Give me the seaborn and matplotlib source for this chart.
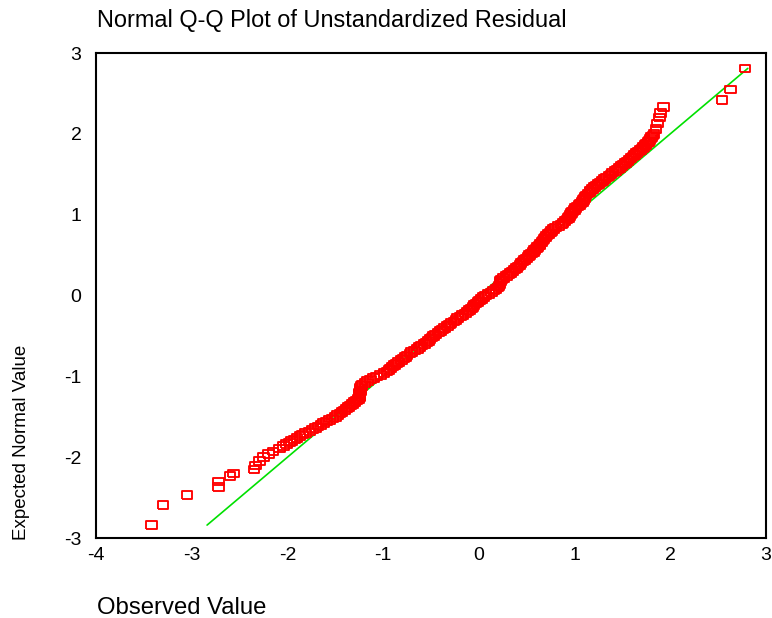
import matplotlib
matplotlib.use("Agg")
import matplotlib.pyplot as plt
import seaborn as sns

# === Data (sorted by rank) ===
# lower tail (single boxes)
obs_low = [-3.42, -3.30, -3.05, -2.72, -2.72, -2.60, -2.56, -2.35, -2.33, -2.29,
           -2.25, -2.20, -2.15, -2.08]
exp_low = [-2.84, -2.59, -2.47, -2.37, -2.30, -2.23, -2.20, -2.15, -2.10, -2.05,
           -2.00, -1.96, -1.93, -1.89]

# dense middle band
obs_mid = [
    -2.04, -2.01, -1.98, -1.96, -1.93, -1.90, -1.87, -1.84, -1.81, -1.77,
    -1.74, -1.71, -1.68, -1.65, -1.62, -1.59, -1.56, -1.53, -1.50, -1.48,
    -1.45, -1.43, -1.40, -1.38, -1.36, -1.34, -1.32, -1.30, -1.28, -1.26,
    -1.25, -1.25, -1.25, -1.25, -1.24, -1.24, -1.24, -1.23, -1.22, -1.19,
    -1.16, -1.13, -1.10, -1.07, -1.03, -0.99, -0.96, -0.94, -0.92, -0.90,
    -0.88, -0.86, -0.84, -0.81, -0.79, -0.77, -0.75, -0.72, -0.70, -0.67,
    -0.64, -0.62, -0.60, -0.57, -0.55, -0.53, -0.51, -0.49, -0.47, -0.45,
    -0.42, -0.40, -0.38, -0.36, -0.33, -0.31, -0.29, -0.26, -0.24, -0.22,
    -0.19, -0.17, -0.14, -0.12, -0.10, -0.08, -0.06, -0.05, -0.03, -0.01,
    0.01, 0.03, 0.05, 0.07, 0.10, 0.13, 0.15, 0.18, 0.20, 0.21,
    0.22, 0.22, 0.23, 0.24, 0.26, 0.29, 0.31, 0.33, 0.35, 0.37,
    0.39, 0.41, 0.43, 0.44, 0.46, 0.48, 0.50, 0.52, 0.53, 0.55,
    0.57, 0.58, 0.60, 0.61, 0.63, 0.64, 0.66, 0.67, 0.68, 0.70,
    0.71, 0.73, 0.75, 0.76, 0.78, 0.80, 0.83, 0.86, 0.88, 0.90,
    0.92, 0.94, 0.95, 0.96, 0.97, 0.98, 1.00, 1.01, 1.03, 1.05,
    1.06, 1.08, 1.09, 1.10, 1.11, 1.12, 1.14, 1.16, 1.17, 1.19,
    1.21, 1.23, 1.25, 1.27, 1.29, 1.31, 1.33, 1.36, 1.38, 1.40,
    1.43, 1.45, 1.47, 1.49, 1.51, 1.53, 1.55, 1.57, 1.59, 1.61,
    1.63, 1.65, 1.67, 1.69, 1.71, 1.72, 1.74, 1.75, 1.77, 1.78,
    1.79, 1.80, 1.82, 1.83,
]
exp_mid = [
    -1.86, -1.84, -1.82, -1.80, -1.78, -1.76, -1.74, -1.72, -1.70, -1.68,
    -1.66, -1.64, -1.62, -1.60, -1.58, -1.56, -1.54, -1.52, -1.50, -1.48,
    -1.46, -1.44, -1.42, -1.40, -1.38, -1.36, -1.34, -1.32, -1.30, -1.28,
    -1.26, -1.24, -1.22, -1.20, -1.18, -1.16, -1.14, -1.12, -1.10, -1.08,
    -1.06, -1.04, -1.02, -1.00, -0.98, -0.96, -0.94, -0.92, -0.90, -0.88,
    -0.86, -0.84, -0.82, -0.80, -0.78, -0.76, -0.74, -0.72, -0.70, -0.68,
    -0.66, -0.64, -0.62, -0.60, -0.58, -0.56, -0.54, -0.52, -0.50, -0.48,
    -0.46, -0.44, -0.42, -0.40, -0.38, -0.36, -0.34, -0.32, -0.30, -0.28,
    -0.26, -0.24, -0.22, -0.20, -0.18, -0.16, -0.14, -0.12, -0.10, -0.08,
    -0.06, -0.04, -0.02, 0.00, 0.02, 0.04, 0.06, 0.08, 0.10, 0.12,
    0.14, 0.16, 0.18, 0.20, 0.22, 0.24, 0.26, 0.28, 0.30, 0.32,
    0.34, 0.36, 0.38, 0.40, 0.42, 0.44, 0.46, 0.48, 0.50, 0.52,
    0.54, 0.56, 0.58, 0.60, 0.62, 0.64, 0.66, 0.68, 0.70, 0.72,
    0.74, 0.76, 0.78, 0.80, 0.82, 0.84, 0.86, 0.88, 0.90, 0.92,
    0.94, 0.96, 0.98, 1.00, 1.02, 1.04, 1.06, 1.08, 1.10, 1.12,
    1.14, 1.16, 1.18, 1.20, 1.22, 1.24, 1.26, 1.28, 1.30, 1.32,
    1.34, 1.36, 1.38, 1.40, 1.42, 1.44, 1.46, 1.48, 1.50, 1.52,
    1.54, 1.56, 1.58, 1.60, 1.62, 1.64, 1.66, 1.68, 1.70, 1.72,
    1.74, 1.76, 1.78, 1.80, 1.82, 1.84, 1.86, 1.88, 1.90, 1.92,
    1.94, 1.96, 1.98, 2.00,
]

# upper tail (single boxes)
obs_high = [1.85, 1.87, 1.89, 1.90, 1.93, 2.54, 2.63, 2.78]
exp_high = [2.06, 2.13, 2.20, 2.26, 2.33, 2.42, 2.55, 2.81]

observed = obs_low + obs_mid + obs_high
expected = exp_low + exp_mid + exp_high

title = "Normal Q-Q Plot of Unstandardized Residual"
x_label = "Observed Value"
y_label = "Expected Normal Value"
x_ticks = [-4, -3, -2, -1, 0, 1, 2, 3]
y_ticks = [-3, -2, -1, 0, 1, 2, 3]

# reference line y = x across the range of expected values
ref_line = [min(expected), max(expected)]

# === Style ===
sns.set_style("white")
plt.rcParams["font.family"] = ["Liberation Sans", "DejaVu Sans"]
plt.rcParams["axes.unicode_minus"] = False

fig = plt.figure(figsize=(7.72, 6.18), dpi=100)
ax = fig.add_axes([0.1244, 0.1294, 0.8678, 0.7848])

# green diagonal under the points
sns.lineplot(x=ref_line, y=ref_line, color="#00e000", linewidth=1.2, ax=ax, zorder=1)

# hollow red boxes (slightly wider than tall, like SPSS)
box = [(-1, -0.7), (1, -0.7), (1, 0.7), (-1, 0.7), (-1, -0.7)]
sns.scatterplot(x=observed, y=expected, marker=box, s=60, color="red",
                facecolor="none", edgecolor="red", linewidth=1.35, ax=ax, zorder=2)

# === Axes ===
ax.set_xlim(-4, 3)
ax.set_ylim(-3, 3)
ax.set_xticks(x_ticks)
ax.set_yticks(y_ticks)
ax.tick_params(axis="both", direction="out", length=3.5, width=3.5, color="black",
               labelsize=14, labelcolor="black")
ax.tick_params(axis="y", pad=7)
ax.tick_params(axis="x", pad=3)
for side in ax.spines.values():
    side.set_color("black")
    side.set_linewidth(1.5)
ax.set_xlabel("")
ax.set_ylabel("")

# === Texts (SPSS places them at the corners) ===
fig.text(97 / 772, 1 - 20 / 618, title, fontsize=16.9, color="black",
         ha="left", va="center")
fig.text(97 / 772, 1 - 608 / 618, x_label, fontsize=17.2, color="black",
         ha="left", va="center")
fig.text(22 / 772, 1 - 442 / 618, y_label, fontsize=13.5, color="black",
         rotation=90, ha="center", va="center")

plt.savefig("out.png", dpi=100)
plt.close()
